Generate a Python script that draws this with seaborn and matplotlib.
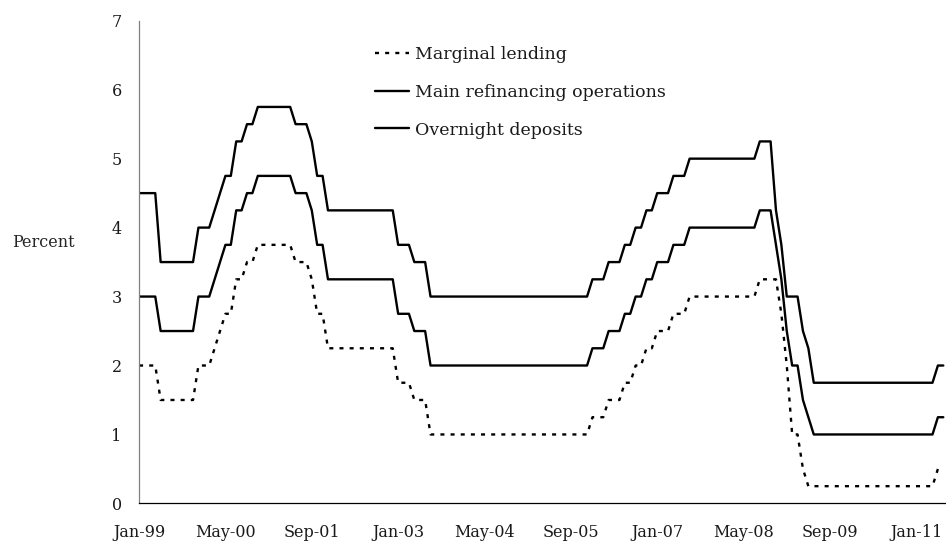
import pandas as pd
import matplotlib
matplotlib.use("Agg")
import matplotlib.pyplot as plt
import seaborn as sns

# Monthly values (rate at the start of each month), Jan-99 .. Jun-11.
# Series names follow the legend of the original chart.
marginal_lending = (
    [2.00, 2.00, 2.00, 2.00, 1.50, 1.50, 1.50, 1.50, 1.50, 1.50, 1.50, 2.00]    # 1999
    + [2.00, 2.00, 2.25, 2.50, 2.75, 2.75, 3.25, 3.25, 3.50, 3.50, 3.75, 3.75]  # 2000
    + [3.75, 3.75, 3.75, 3.75, 3.75, 3.50, 3.50, 3.50, 3.25, 2.75, 2.75, 2.25]  # 2001
    + [2.25, 2.25, 2.25, 2.25, 2.25, 2.25, 2.25, 2.25, 2.25, 2.25, 2.25, 2.25]  # 2002
    + [1.75, 1.75, 1.75, 1.50, 1.50, 1.50, 1.00, 1.00, 1.00, 1.00, 1.00, 1.00]  # 2003
    + [1.00, 1.00, 1.00, 1.00, 1.00, 1.00, 1.00, 1.00, 1.00, 1.00, 1.00, 1.00]  # 2004
    + [1.00, 1.00, 1.00, 1.00, 1.00, 1.00, 1.00, 1.00, 1.00, 1.00, 1.00, 1.00]  # 2005
    + [1.25, 1.25, 1.25, 1.50, 1.50, 1.50, 1.75, 1.75, 2.00, 2.00, 2.25, 2.25]  # 2006
    + [2.50, 2.50, 2.50, 2.75, 2.75, 2.75, 3.00, 3.00, 3.00, 3.00, 3.00, 3.00]  # 2007
    + [3.00, 3.00, 3.00, 3.00, 3.00, 3.00, 3.00, 3.25, 3.25, 3.25, 3.25, 2.75]  # 2008
    + [2.00, 1.00, 1.00, 0.50, 0.25, 0.25, 0.25, 0.25, 0.25, 0.25, 0.25, 0.25]  # 2009
    + [0.25, 0.25, 0.25, 0.25, 0.25, 0.25, 0.25, 0.25, 0.25, 0.25, 0.25, 0.25]  # 2010
    + [0.25, 0.25, 0.25, 0.25, 0.50, 0.50]                                      # 2011
)

main_refi = (
    [3.00, 3.00, 3.00, 3.00, 2.50, 2.50, 2.50, 2.50, 2.50, 2.50, 2.50, 3.00]    # 1999
    + [3.00, 3.00, 3.25, 3.50, 3.75, 3.75, 4.25, 4.25, 4.50, 4.50, 4.75, 4.75]  # 2000
    + [4.75, 4.75, 4.75, 4.75, 4.75, 4.50, 4.50, 4.50, 4.25, 3.75, 3.75, 3.25]  # 2001
    + [3.25, 3.25, 3.25, 3.25, 3.25, 3.25, 3.25, 3.25, 3.25, 3.25, 3.25, 3.25]  # 2002
    + [2.75, 2.75, 2.75, 2.50, 2.50, 2.50, 2.00, 2.00, 2.00, 2.00, 2.00, 2.00]  # 2003
    + [2.00, 2.00, 2.00, 2.00, 2.00, 2.00, 2.00, 2.00, 2.00, 2.00, 2.00, 2.00]  # 2004
    + [2.00, 2.00, 2.00, 2.00, 2.00, 2.00, 2.00, 2.00, 2.00, 2.00, 2.00, 2.00]  # 2005
    + [2.25, 2.25, 2.25, 2.50, 2.50, 2.50, 2.75, 2.75, 3.00, 3.00, 3.25, 3.25]  # 2006
    + [3.50, 3.50, 3.50, 3.75, 3.75, 3.75, 4.00, 4.00, 4.00, 4.00, 4.00, 4.00]  # 2007
    + [4.00, 4.00, 4.00, 4.00, 4.00, 4.00, 4.00, 4.25, 4.25, 4.25, 3.75, 3.25]  # 2008
    + [2.50, 2.00, 2.00, 1.50, 1.25, 1.00, 1.00, 1.00, 1.00, 1.00, 1.00, 1.00]  # 2009
    + [1.00, 1.00, 1.00, 1.00, 1.00, 1.00, 1.00, 1.00, 1.00, 1.00, 1.00, 1.00]  # 2010
    + [1.00, 1.00, 1.00, 1.00, 1.25, 1.25]                                      # 2011
)

overnight_deposits = (
    [4.50, 4.50, 4.50, 4.50, 3.50, 3.50, 3.50, 3.50, 3.50, 3.50, 3.50, 4.00]    # 1999
    + [4.00, 4.00, 4.25, 4.50, 4.75, 4.75, 5.25, 5.25, 5.50, 5.50, 5.75, 5.75]  # 2000
    + [5.75, 5.75, 5.75, 5.75, 5.75, 5.50, 5.50, 5.50, 5.25, 4.75, 4.75, 4.25]  # 2001
    + [4.25, 4.25, 4.25, 4.25, 4.25, 4.25, 4.25, 4.25, 4.25, 4.25, 4.25, 4.25]  # 2002
    + [3.75, 3.75, 3.75, 3.50, 3.50, 3.50, 3.00, 3.00, 3.00, 3.00, 3.00, 3.00]  # 2003
    + [3.00, 3.00, 3.00, 3.00, 3.00, 3.00, 3.00, 3.00, 3.00, 3.00, 3.00, 3.00]  # 2004
    + [3.00, 3.00, 3.00, 3.00, 3.00, 3.00, 3.00, 3.00, 3.00, 3.00, 3.00, 3.00]  # 2005
    + [3.25, 3.25, 3.25, 3.50, 3.50, 3.50, 3.75, 3.75, 4.00, 4.00, 4.25, 4.25]  # 2006
    + [4.50, 4.50, 4.50, 4.75, 4.75, 4.75, 5.00, 5.00, 5.00, 5.00, 5.00, 5.00]  # 2007
    + [5.00, 5.00, 5.00, 5.00, 5.00, 5.00, 5.00, 5.25, 5.25, 5.25, 4.25, 3.75]  # 2008
    + [3.00, 3.00, 3.00, 2.50, 2.25, 1.75, 1.75, 1.75, 1.75, 1.75, 1.75, 1.75]  # 2009
    + [1.75, 1.75, 1.75, 1.75, 1.75, 1.75, 1.75, 1.75, 1.75, 1.75, 1.75, 1.75]  # 2010
    + [1.75, 1.75, 1.75, 1.75, 2.00, 2.00]                                      # 2011
)

tick_labels = ["Jan-99", "May-00", "Sep-01", "Jan-03", "May-04",
               "Sep-05", "Jan-07", "May-08", "Sep-09", "Jan-11"]
tick_step = 16  # months between labelled ticks

df = pd.DataFrame({
    "month": range(len(main_refi)),
    "Marginal lending": marginal_lending,
    "Main refinancing operations": main_refi,
    "Overnight deposits": overnight_deposits,
})

sns.set_style("white")
plt.rcParams["font.family"] = ["DejaVu Serif"]
plt.rcParams["font.size"] = 11.5

fig = plt.figure(figsize=(9.46, 5.46), dpi=100)
ax = fig.add_axes([0.147, 0.078, 0.853, 0.884])

lw = 1.7
sns.lineplot(data=df, x="month", y="Marginal lending", ax=ax, color="black",
             linewidth=lw, linestyle=(0, (1.7, 2.6)), label="Marginal lending")
sns.lineplot(data=df, x="month", y="Main refinancing operations", ax=ax, color="black",
             linewidth=lw, label="Main refinancing operations")
sns.lineplot(data=df, x="month", y="Overnight deposits", ax=ax, color="black",
             linewidth=lw, label="Overnight deposits")

ax.set_xlim(0, 149.5)
ax.set_ylim(0, 7)
ax.set_xticks([i * tick_step for i in range(len(tick_labels))])
ax.set_xticklabels(tick_labels)
ax.set_yticks(range(8))
ax.set_xlabel("")
ax.set_ylabel("Percent", rotation=0, ha="left", va="center")
ax.yaxis.set_label_coords(-0.157, 0.54)

sns.despine(ax=ax)
ax.spines["left"].set_color("#808080")
ax.spines["left"].set_linewidth(0.9)
ax.spines["bottom"].set_color("black")
ax.spines["bottom"].set_linewidth(0.9)
ax.tick_params(axis="y", direction="out", length=5, width=0.9, color="#808080",
               pad=7.5, labelcolor="#1a1a1a")
ax.tick_params(axis="x", direction="out", length=5, width=0.9, color="black",
               pad=10, labelcolor="#1a1a1a")

leg = ax.legend(loc="upper left", bbox_to_anchor=(0.292, 0.948), frameon=False,
                fontsize=12.5, handlelength=2.0, handletextpad=0.3,
                labelspacing=1.2, borderpad=0, borderaxespad=0)
for t in leg.get_texts():
    t.set_color("#1a1a1a")

fig.savefig("out.png", dpi=100)
